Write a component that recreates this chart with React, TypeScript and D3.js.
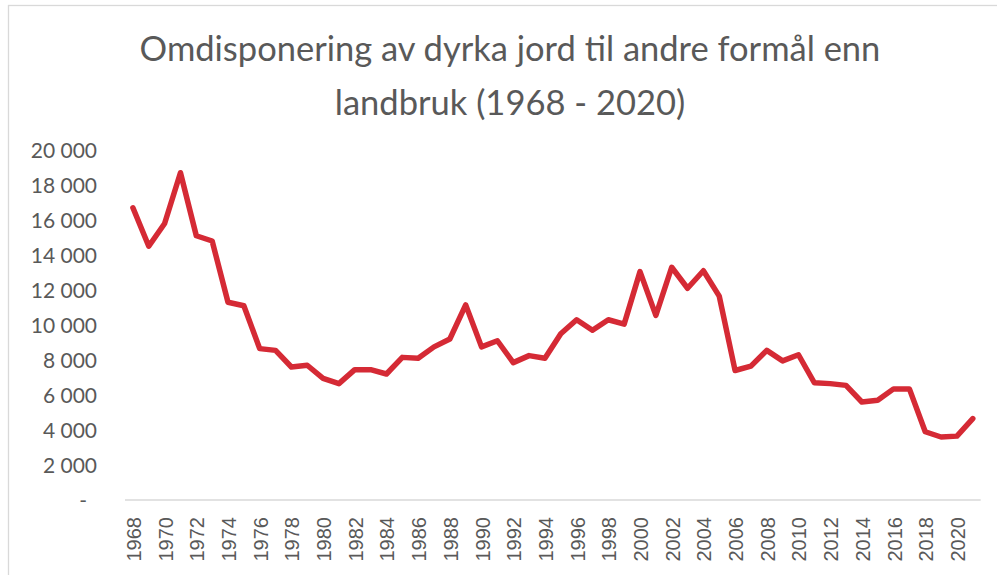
import React from "react";
import * as d3 from "d3";

// Omdisponert dyrka jord (dekar) per år
const years = d3.range(1968, 2022).map(String);
const values = [
  16700, 14500, 15800, 18700, 15100, 14800, 11300, 11100, 8650, 8550,
  7600, 7700, 6950, 6650, 7450, 7450, 7200, 8150, 8100, 8750,
  9200, 11150, 8750, 9100, 7850, 8250, 8100, 9500, 10300, 9700,
  10300, 10050, 13050, 10550, 13300, 12100, 13100, 11650, 7400, 7650,
  8550, 7950, 8300, 6700, 6650, 6550, 5600, 5700, 6350, 6350,
  3900, 3600, 3650, 4650,
];
const yTicks = d3.range(0, 20001, 2000);
const titleLines = ["Omdisponering av dyrka jord til andre formål enn", "landbruk (1968 - 2020)"];

const W = 997;
const H = 575;
const margin = { left: 125, right: 16.3, top: 150, bottom: 75 };

const nb = d3.formatLocale({ decimal: ",", thousands: " ", grouping: [3], currency: ["", " kr"] });
const fmt = nb.format(",");

const App = () => {
  const x = d3
    .scaleBand<string>()
    .domain(years)
    .range([margin.left, W - margin.right]);
  const y = d3
    .scaleLinear()
    .domain([0, 20000])
    .range([H - margin.bottom, margin.top]);

  const line = d3
    .line<number>()
    .x((d, i) => (x(years[i]) as number) + x.bandwidth() / 2)
    .y((d) => y(d));

  const textColor = "#595959";

  return (
    <svg
      width={W}
      height={H}
      style={{ position: "absolute", left: 0, top: 0, background: "#fff" }}
    >
      {/* chart border (runs off the picture on right/bottom) */}
      <rect x={8.5} y={5.5} width={1100} height={700} fill="#fff" stroke="#d9d9d9" strokeWidth={1.3} />

      {/* title */}
      <g fill={textColor} fontFamily="Lato, 'Open Sans', sans-serif" fontSize={34.5} textAnchor="middle">
        {titleLines.map((t, i) => (
          <text key={i} x={510} y={61 + i * 54}>
            {t}
          </text>
        ))}
      </g>

      {/* y axis labels */}
      <g fill={textColor} fontFamily="Lato, 'Open Sans', sans-serif" fontSize={21}>
        {yTicks.map((v) => (
          <text
            key={v}
            x={v === 0 ? 87 : 97}
            y={y(v) - 1}
            textAnchor="end"
            dominantBaseline="central"
          >
            {v === 0 ? "-" : fmt(v)}
          </text>
        ))}
      </g>

      {/* x axis line */}
      <line
        x1={x.range()[0]}
        x2={x.range()[1]}
        y1={y(0)}
        y2={y(0)}
        stroke="#d9d9d9"
        strokeWidth={1.6}
      />

      {/* x axis labels, every second year */}
      <g fill={textColor} fontFamily="'Liberation Sans', Arial, sans-serif" fontSize={20}>
        {years
          .filter((d, i) => i % 2 === 0)
          .map((d) => {
            const cx = (x(d) as number) + x.bandwidth() / 2 + 1;
            return (
              <text
                key={d}
                transform={`translate(${cx},${y(0) + 17}) rotate(-90)`}
                textAnchor="end"
                dominantBaseline="central"
              >
                {d}
              </text>
            );
          })}
      </g>

      {/* data line */}
      <path
        d={line(values) || ""}
        fill="none"
        stroke="#d52a35"
        strokeWidth={5.5}
        strokeLinejoin="round"
        strokeLinecap="round"
      />
    </svg>
  );
};

export default App;
